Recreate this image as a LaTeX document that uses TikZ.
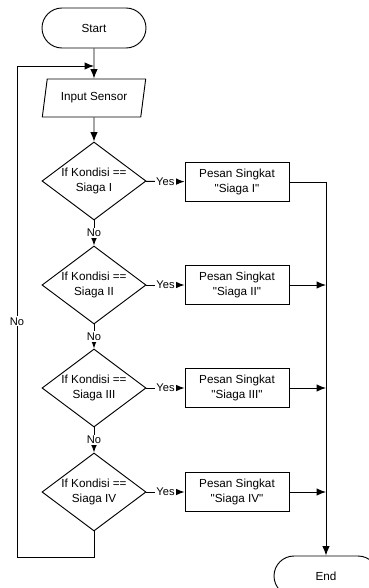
\documentclass[tikz,border=0pt]{standalone}
\usepackage{fontspec}
\setmainfont{Liberation Sans}
\usetikzlibrary{shapes.geometric,arrows.meta}
\newcommand{\qt}[1]{\textquotedbl#1\textquotedbl}

\begin{document}
\begin{tikzpicture}[x=0.03cm, y=-0.03cm, line width=0.8pt,
    >={Latex[length=2.8mm,width=2.2mm]},
    font=\fontsize{10}{12.5}\selectfont,
    terminal/.style={draw, rectangle, rounded corners=0.6cm, minimum width=3.12cm, minimum height=1.2cm},
    inputbox/.style={draw, trapezium, trapezium left angle=78, trapezium right angle=102,
        trapezium stretches=true, minimum width=3.12cm, minimum height=1.14cm},
    decision/.style={draw, diamond, aspect=1.33, inner sep=0pt, align=center,
        minimum width=3.12cm, minimum height=2.34cm},
    pesan/.style={draw, rectangle, align=center, minimum width=3.12cm, minimum height=1.17cm},
    lbl/.style={fill=white, inner sep=1pt, font=\fontsize{9.5}{11}\selectfont}]
    \useasboundingbox (0,0) rectangle (369,588);
    \clip (0,0) rectangle (369,588);
    \node[terminal] (start) at (94,28) {Start};
    \node[inputbox] (input) at (94,98) {Input Sensor};
    \node[decision] (k1) at (94,181) {If Kondisi ==\\Siaga I};
    \node[decision] (k2) at (94,285) {If Kondisi ==\\Siaga II};
    \node[decision] (k3) at (94,388) {If Kondisi ==\\Siaga III};
    \node[decision] (k4) at (94,492) {If Kondisi ==\\Siaga IV};
    \node[pesan] (p1) at (237,182) {Pesan Singkat\\\qt{Siaga I}};
    \node[pesan] (p2) at (237,285) {Pesan Singkat\\\qt{Siaga II}};
    \node[pesan] (p3) at (237,388) {Pesan Singkat\\\qt{Siaga III}};
    \node[pesan] (p4) at (237,492) {Pesan Singkat\\\qt{Siaga IV}};
    \node[terminal] (end) at (326,576) {End};
    \coordinate (back) at (17,557);
    \coordinate (merge) at (94,66);
    \draw[->] (start) -- (input);
    \draw[->] (input) -- (k1);
    \foreach \i in {1,...,4}
        \draw[->] (k\i) -- node[lbl] {Yes} (p\i);
    \foreach \i/\j in {1/2,2/3,3/4}
        \draw[->] (k\i) -- node[lbl] {No} (k\j);
    \draw[->] (k4.south) |- (back) -- node[lbl, pos=0.48] {No} (back |- merge) -- (merge);
    \draw[->] (p1.east) -- (p1.east -| end.north) -- (end.north);
    \foreach \i in {2,3,4}
        \draw[->] (p\i.east) -- (p\i.east -| end.north);
\end{tikzpicture}
\end{document}
